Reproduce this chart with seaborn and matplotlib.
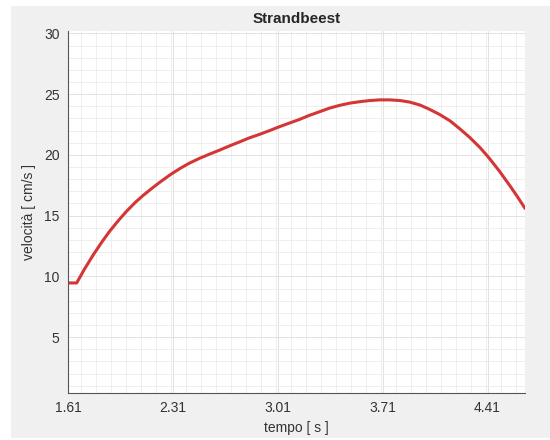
import numpy as np
import pandas as pd
import matplotlib
matplotlib.use("Agg")
import matplotlib.pyplot as plt
import seaborn as sns
from matplotlib.patches import Rectangle
from matplotlib.ticker import MultipleLocator

# values
tempo = [1.61, 1.668, 1.72, 1.78, 1.84, 1.89, 1.95, 2.00, 2.06, 2.11, 2.17,
         2.223, 2.29, 2.357, 2.42, 2.49, 2.556, 2.623, 2.69, 2.757, 2.82,
         2.89, 2.955, 3.023, 3.09, 3.157, 3.22, 3.29, 3.355, 3.423, 3.49,
         3.557, 3.62, 3.69, 3.76, 3.83, 3.89, 3.96, 4.02, 4.09, 4.16, 4.22,
         4.29, 4.36, 4.42, 4.49, 4.56, 4.61, 4.66]
velocita = [9.46, 9.46, 10.6, 11.8, 12.9, 13.75, 14.65, 15.35, 16.1, 16.65, 17.25,
            17.75, 18.35, 18.88, 19.32, 19.73, 20.07, 20.4, 20.75, 21.08, 21.4,
            21.7, 22.0, 22.33, 22.63, 22.93, 23.25, 23.56, 23.85, 24.08, 24.26,
            24.38, 24.47, 24.53, 24.53, 24.47, 24.35, 24.1, 23.77, 23.33, 22.8, 22.2,
            21.45, 20.6, 19.75, 18.65, 17.45, 16.55, 15.6]
x_ticks = [1.61, 2.31, 3.01, 3.71, 4.41]
y_ticks = [5, 10, 15, 20, 25, 30]

df = pd.DataFrame({"tempo": tempo, "velocita": velocita})

sns.set_style("white")
plt.rcParams['font.family'] = ['Liberation Sans', 'DejaVu Sans']

fig = plt.figure(figsize=(5.5, 4.4), dpi=100, facecolor="white")
fig.patches.append(Rectangle((11 / 550, 2 / 440), 539 / 550, 432 / 440,
                             transform=fig.transFigure, facecolor="#f0f0f0",
                             edgecolor="none", zorder=-1))
ax = fig.add_axes([68 / 550, 47 / 440, 457 / 550, 362 / 440])
ax.set_facecolor("white")

sns.lineplot(data=df, x="tempo", y="velocita", ax=ax, color="#d43535",
             linewidth=2.2, solid_joinstyle="round")

ax.set_xlim(1.61, 4.66)
ax.set_ylim(0.4, 30.2)
ax.set_xticks(x_ticks)
ax.set_xticklabels([f"{t:.2f}" for t in x_ticks])
ax.set_yticks(y_ticks)
ax.xaxis.set_minor_locator(MultipleLocator(0.1))
ax.yaxis.set_minor_locator(MultipleLocator(1))
ax.grid(which="major", color="#e2e2e2", linewidth=0.7)
ax.grid(which="minor", color="#ececec", linewidth=0.6)
ax.set_axisbelow(True)

for s in ["top", "right"]:
    ax.spines[s].set_visible(False)
for s in ["left", "bottom"]:
    ax.spines[s].set_color("#555555")
    ax.spines[s].set_linewidth(0.8)
ax.tick_params(which="major", direction="in", length=3, color="#555555",
               labelsize=10, labelcolor="#333333", pad=6)
ax.tick_params(which="minor", length=0)

ax.set_xlabel("tempo [ s ]", fontsize=10, color="#333333", labelpad=4)
ax.set_ylabel("velocità [ cm/s ]", fontsize=10, color="#333333", labelpad=6)
ax.set_title("Strandbeest", fontsize=11, fontweight="bold", pad=6)

fig.savefig("out.png", dpi=100, facecolor=fig.get_facecolor())
